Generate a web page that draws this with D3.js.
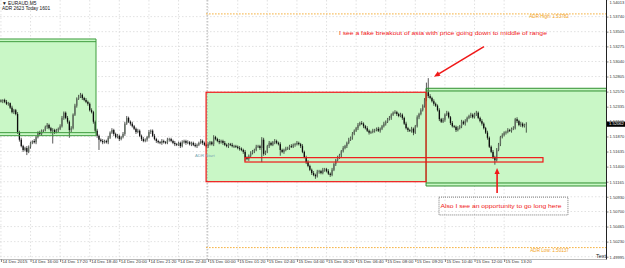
<!DOCTYPE html>
<html>
<head>
<meta charset="utf-8">
<script src="https://cdn.jsdelivr.net/npm/d3@7"></script>
<style>
  html, body { margin: 0; padding: 0; background: #fff; }
  svg { display: block; font-family: "Liberation Sans", Arial, sans-serif; }
</style>
</head>
<body>
<svg id="chart"></svg>
<script>
// Frame
const FRAME_WIDTH = 625;
const FRAME_HEIGHT = 268;
const PLOT_RIGHT = 606;
const PLOT_BOTTOM = 259;
const PIP = 0.0001;

// EURAUD M5 bars, 14 Dec 2015 14:40 onward (open of first bar, then closes)
const firstOpen = 1.5243;
const closes = [
  1.5242,1.5244,1.5241,1.5238,1.5239,1.5232,1.5225,1.5228,1.5222,1.5194,
  1.5182,1.5172,1.5166,1.5169,1.5163,1.5171,1.5177,1.5180,1.5178,1.5186,
  1.5193,1.5191,1.5196,1.5197,1.5202,1.5205,1.5200,1.5196,1.5197,1.5194,
  1.5197,1.5199,1.5203,1.5216,1.5224,1.5216,1.5210,1.5197,1.5200,1.5221,
  1.5235,1.5246,1.5249,1.5252,1.5247,1.5244,1.5241,1.5238,1.5228,1.5225,
  1.5210,1.5196,1.5188,1.5182,1.5180,1.5178,1.5180,1.5178,1.5185,1.5193,
  1.5197,1.5191,1.5186,1.5188,1.5183,1.5186,1.5191,1.5207,1.5216,1.5210,
  1.5207,1.5203,1.5199,1.5194,1.5196,1.5188,1.5183,1.5180,1.5182,1.5186,
  1.5194,1.5196,1.5188,1.5183,1.5180,1.5178,1.5177,1.5180,1.5178,1.5177,
  1.5182,1.5183,1.5180,1.5177,1.5175,1.5174,1.5177,1.5172,1.5178,1.5180,
  1.5177,1.5178,1.5175,1.5177,1.5174,1.5172,1.5174,1.5177,1.5180,1.5177,
  1.5174,1.5172,1.5175,1.5178,1.5175,1.5186,1.5183,1.5180,1.5178,1.5180,
  1.5177,1.5174,1.5172,1.5175,1.5174,1.5172,1.5172,1.5171,1.5169,1.5168,
  1.5166,1.5163,1.5154,1.5152,1.5157,1.5161,1.5164,1.5166,1.5171,1.5172,
  1.5169,1.5182,1.5160,1.5163,1.5172,1.5177,1.5174,1.5178,1.5180,1.5177,
  1.5175,1.5166,1.5163,1.5166,1.5168,1.5169,1.5172,1.5171,1.5174,1.5175,
  1.5177,1.5175,1.5172,1.5163,1.5155,1.5147,1.5141,1.5135,1.5130,1.5127,
  1.5125,1.5132,1.5133,1.5130,1.5135,1.5136,1.5133,1.5129,1.5127,1.5135,
  1.5144,1.5150,1.5154,1.5158,1.5164,1.5169,1.5172,1.5177,1.5182,1.5185,
  1.5191,1.5196,1.5200,1.5205,1.5208,1.5207,1.5203,1.5200,1.5196,1.5193,
  1.5194,1.5196,1.5197,1.5199,1.5196,1.5199,1.5203,1.5207,1.5210,1.5214,
  1.5216,1.5221,1.5224,1.5225,1.5222,1.5219,1.5221,1.5216,1.5207,1.5200,
  1.5197,1.5196,1.5199,1.5193,1.5203,1.5217,1.5222,1.5228,1.5235,1.5244,
  1.5256,1.5250,1.5247,1.5242,1.5238,1.5235,1.5228,1.5214,1.5210,1.5213,
  1.5221,1.5224,1.5217,1.5208,1.5203,1.5202,1.5197,1.5200,1.5203,1.5210,
  1.5207,1.5211,1.5216,1.5219,1.5221,1.5217,1.5222,1.5224,1.5216,1.5211,
  1.5207,1.5200,1.5193,1.5185,1.5171,1.5163,1.5155,1.5150,1.5166,1.5175,
  1.5186,1.5189,1.5193,1.5194,1.5197,1.5196,1.5199,1.5200,1.5214,1.5211,
  1.5205,1.5207,1.5203,1.5205,1.52062
];
// wick lengths in pips above / below the candle body
const upperWick = [
  2,1,2,3,2,1,3,2,2,3, 2,3,2,2,3,2,2,1,3,2, 2,3,2,1,2,3,2,2,3,2, 2,2,3,3,2,2,3,2,3,2,
  3,2,3,3,2,2,3,2,2,3, 2,2,3,2,2,3,2,2,3,2, 3,2,2,3,2,2,3,3,3,2, 2,3,2,2,3,2,2,3,2,2,
  3,2,2,3,2,2,2,3,2,2, 3,2,2,2,3,2,2,2,3,2, 2,3,2,2,2,3,2,2,3,2, 2,2,3,2,2,3,2,2,3,2,
  2,3,2,2,2,3,2,2,2,3, 2,2,3,2,2,3,2,2,3,2, 2,4,3,2,2,3,2,2,3,2, 2,3,2,2,3,2,2,3,2,2,
  3,2,2,3,2,2,3,2,2,3, 2,3,2,2,3,2,2,3,2,3, 2,2,3,2,2,3,2,2,3,2, 3,2,2,3,2,3,2,2,3,2,
  2,3,2,2,3,2,2,3,2,2, 3,2,2,3,2,2,3,2,2,3, 2,2,3,2,2,3,2,3,2,3, 15,22,3,2,3,2,2,3,2,3,
  2,3,2,2,3,2,2,3,2,3, 2,3,2,2,3,2,2,3,2,2, 3,2,2,3,2,2,3,2,3,2, 2,3,2,2,3,2,2,3,2,3,
  2,3,2,2,3
];
const lowerWick = [
  2,3,2,2,3,2,2,3,2,3, 3,2,3,2,5,2,3,2,2,3, 2,2,3,2,2,3,2,4,20,3, 2,3,2,2,3,2,3,12,3,2,
  2,3,2,2,3,2,2,3,2,2, 3,2,3,16,2,3,2,2,3,2, 2,3,2,2,3,2,2,3,2,2, 3,2,2,3,2,2,3,2,2,3,
  2,3,2,2,3,2,2,3,2,2, 2,3,2,2,3,2,2,3,2,2, 3,2,2,3,2,2,3,2,2,3, 2,2,3,2,2,3,2,2,3,2,
  3,2,2,3,2,2,3,2,2,3, 2,3,5,2,3,2,2,3,2,2, 3,22,3,2,2,3,2,2,3,2, 2,9,2,3,2,2,3,2,2,3,
  2,2,3,2,2,3,2,2,3,2, 4,2,3,2,2,3,2,2,3,2, 2,3,2,2,3,2,2,3,2,2, 3,2,2,3,2,2,3,2,2,3,
  2,2,3,2,2,3,2,2,3,2, 2,3,2,2,3,2,2,3,2,2, 3,2,3,4,2,2,3,2,2,3, 2,3,2,2,3,2,2,3,2,2,
  3,2,2,3,2,2,3,2,2,3, 2,3,2,2,3,2,2,3,2,2, 3,2,2,3,2,2,3,7,2,2, 3,2,2,3,2,2,3,2,2,3,
  2,3,2,2,12
];

// axis labels
const timeLabels = ["14 Dec 2015", "14 Dec 16:00", "14 Dec 17:20", "14 Dec 18:40", "14 Dec 20:00",
  "14 Dec 21:20", "14 Dec 22:40", "15 Dec 00:00", "15 Dec 01:20", "15 Dec 02:40", "15 Dec 04:00",
  "15 Dec 05:20", "15 Dec 06:40", "15 Dec 08:00", "15 Dec 09:20", "15 Dec 10:40", "15 Dec 12:00",
  "15 Dec 13:20"];
const BARS_PER_LABEL = 16; // 80 minutes of M5 bars
const priceLabels = ["1.54013", "1.53740", "1.53505", "1.53275", "1.53040", "1.52805", "1.52570",
  "1.52335", "1.52105", "1.51870", "1.51635", "1.51400", "1.51165", "1.50930", "1.50700",
  "1.50465", "1.50230", "1.49995"];

// drawn objects: [start bar, end bar, ...prices]
const prevBox = [-0.5, 51.4, 1.53391, 1.53349, 1.51930, 1.51883];
const asiaBox = [110.9, 229.8, 1.52560, 1.51165];
const projBox = [229.8, 327.1, 1.52622, 1.52580, 1.51145, 1.51098];
const supportBox = [131.9, 293, 1.51540, 1.51472];
const adrStartBar = 110.9;
const adrLevels = [1.53782, 1.50137];
const adrNames = ["ADR High: 1.53782", "ADR Low: 1.50137"];
const daySeparatorBar = 112;

const FRAME = d3.select("#chart")
  .attr("width", FRAME_WIDTH)
  .attr("height", FRAME_HEIGHT);

const X_SCALE = d3.scaleLinear().domain([-0.5, 327.07]).range([0, PLOT_RIGHT]);
const Y_SCALE = d3.scaleLinear().domain([1.49995, 1.54013]).range([256.7, -0.9]);

FRAME.append("defs").append("clipPath").attr("id", "plot")
  .append("rect").attr("x", 0).attr("y", 0).attr("width", PLOT_RIGHT).attr("height", PLOT_BOTTOM);

const plot = FRAME.append("g").attr("clip-path", "url(#plot)");

// grid
const tickBars = timeLabels.map((d, i) => i * BARS_PER_LABEL);
plot.append("g").selectAll("line").data(priceLabels).enter().append("line")
  .attr("x1", 0).attr("x2", PLOT_RIGHT)
  .attr("y1", d => Y_SCALE(+d)).attr("y2", d => Y_SCALE(+d))
  .attr("stroke", "#d6d6d6").attr("stroke-width", 0.7).attr("stroke-dasharray", "1.5,2");
plot.append("g").selectAll("line").data(tickBars).enter().append("line")
  .attr("x1", d => X_SCALE(d)).attr("x2", d => X_SCALE(d))
  .attr("y1", 0).attr("y2", PLOT_BOTTOM)
  .attr("stroke", "#d6d6d6").attr("stroke-width", 0.7).attr("stroke-dasharray", "1.5,2");

// zone fills
const GREEN_FILL = "#c9f7c6";
function fillBox(x0, x1, p0, p1) {
  plot.append("rect")
    .attr("x", X_SCALE(x0)).attr("width", X_SCALE(x1) - X_SCALE(x0))
    .attr("y", Y_SCALE(p0)).attr("height", Y_SCALE(p1) - Y_SCALE(p0))
    .attr("fill", GREEN_FILL);
}
fillBox(prevBox[0], prevBox[1], prevBox[2], prevBox[5]);
fillBox(asiaBox[0], asiaBox[1], asiaBox[2], asiaBox[3]);
fillBox(projBox[0], projBox[1], projBox[2], projBox[5]);

// day separator
plot.append("line")
  .attr("x1", X_SCALE(daySeparatorBar) - 1).attr("x2", X_SCALE(daySeparatorBar) - 1)
  .attr("y1", 0).attr("y2", PLOT_BOTTOM)
  .attr("stroke", "#9a9a9a").attr("stroke-width", 0.8).attr("stroke-dasharray", "1.5,1.5");

// ADR lines
plot.append("g").selectAll("line").data(adrLevels).enter().append("line")
  .attr("x1", X_SCALE(adrStartBar)).attr("x2", PLOT_RIGHT)
  .attr("y1", d => Y_SCALE(d)).attr("y2", d => Y_SCALE(d))
  .attr("stroke", "#f3a21b").attr("stroke-width", 0.9).attr("stroke-dasharray", "1.5,1.5");

// candles
const candles = closes.map((c, i) => {
  const o = i === 0 ? firstOpen : closes[i - 1];
  return {i: i, o: o, c: c,
    h: Math.max(o, c) + upperWick[i] * PIP,
    l: Math.min(o, c) - lowerWick[i] * PIP};
});
plot.append("g").selectAll("line").data(candles).enter().append("line")
  .attr("x1", d => X_SCALE(d.i)).attr("x2", d => X_SCALE(d.i))
  .attr("y1", d => Y_SCALE(d.h)).attr("y2", d => Y_SCALE(d.l))
  .attr("stroke", "#111").attr("stroke-width", 0.7);
plot.append("g").selectAll("rect").data(candles).enter().append("rect")
  .attr("x", d => X_SCALE(d.i) - 0.65).attr("width", 1.3)
  .attr("y", d => Y_SCALE(Math.max(d.o, d.c)))
  .attr("height", d => Math.max(0.8, Y_SCALE(Math.min(d.o, d.c)) - Y_SCALE(Math.max(d.o, d.c))))
  .attr("fill", d => d.c >= d.o ? "#5f6b5f" : "#0c0c0c");

// zone borders
const GREEN_LINE = "#3f9d3f";
function hline(x0, x1, p, color, w) {
  plot.append("line").attr("x1", X_SCALE(x0)).attr("x2", X_SCALE(x1))
    .attr("y1", Y_SCALE(p)).attr("y2", Y_SCALE(p))
    .attr("stroke", color).attr("stroke-width", w);
}
function vline(x, p0, p1, color, w) {
  plot.append("line").attr("x1", X_SCALE(x)).attr("x2", X_SCALE(x))
    .attr("y1", Y_SCALE(p0)).attr("y2", Y_SCALE(p1))
    .attr("stroke", color).attr("stroke-width", w);
}
prevBox.slice(2).forEach(p => hline(prevBox[0], prevBox[1], p, GREEN_LINE, 1));
vline(prevBox[1], prevBox[2], prevBox[5], GREEN_LINE, 1);
projBox.slice(2).forEach(p => hline(projBox[0], projBox[1], p, "#2f8f2f", 1));
vline(projBox[0], projBox[2], projBox[5], "#2f8f2f", 1);

const RED = "#f01818";
plot.append("rect")
  .attr("x", X_SCALE(asiaBox[0])).attr("width", X_SCALE(asiaBox[1]) - X_SCALE(asiaBox[0]))
  .attr("y", Y_SCALE(asiaBox[2])).attr("height", Y_SCALE(asiaBox[3]) - Y_SCALE(asiaBox[2]))
  .attr("fill", "none").attr("stroke", RED).attr("stroke-width", 1.2);
plot.append("rect")
  .attr("x", X_SCALE(supportBox[0])).attr("width", X_SCALE(supportBox[1]) - X_SCALE(supportBox[0]))
  .attr("y", Y_SCALE(supportBox[2])).attr("height", Y_SCALE(supportBox[3]) - Y_SCALE(supportBox[2]))
  .attr("fill", "none").attr("stroke", RED).attr("stroke-width", 1.2);

// ADR texts
plot.append("g").selectAll("text").data(adrLevels).enter().append("text")
  .attr("x", X_SCALE(307)).attr("y", d => Y_SCALE(d) + 3.3)
  .attr("text-anchor", "end").attr("dominant-baseline", "middle")
  .attr("font-size", 4.6).attr("fill", "#f3a21b")
  .text((d, i) => adrNames[i]);
plot.append("text")
  .attr("x", X_SCALE(104.9)).attr("y", Y_SCALE(1.51566))
  .attr("dominant-baseline", "middle").attr("font-size", 4.4).attr("fill", "#7ea9b3")
  .text("ADR Start");

// annotations
function arrow(b0, p0, b1, p1) {
  const x0 = X_SCALE(b0), y0 = Y_SCALE(p0), x1 = X_SCALE(b1), y1 = Y_SCALE(p1);
  const a = Math.atan2(y1 - y0, x1 - x0);
  const L = 6, W = 2.6;
  const bx = x1 - L * Math.cos(a), by = y1 - L * Math.sin(a);
  FRAME.append("line").attr("x1", x0).attr("y1", y0).attr("x2", bx).attr("y2", by)
    .attr("stroke", RED).attr("stroke-width", 1.6);
  FRAME.append("path")
    .attr("d", `M${x1},${y1}L${bx + W * Math.sin(a)},${by - W * Math.cos(a)}L${bx - W * Math.sin(a)},${by + W * Math.cos(a)}Z`)
    .attr("fill", RED);
}
arrow(261.1, 1.53271, 234.1, 1.52803);
arrow(268.2, 1.50989, 268.2, 1.51379);

FRAME.append("text")
  .attr("x", X_SCALE(182.7)).attr("y", Y_SCALE(1.53485))
  .attr("dominant-baseline", "middle").attr("font-size", 6).attr("fill", RED)
  .attr("textLength", 208).attr("lengthAdjust", "spacingAndGlyphs")
  .text("I see a fake breakout of asia with price going down to middle of range");

FRAME.append("rect")
  .attr("x", X_SCALE(236.8)).attr("width", X_SCALE(306.5) - X_SCALE(236.8))
  .attr("y", Y_SCALE(1.50924)).attr("height", Y_SCALE(1.50646) - Y_SCALE(1.50924))
  .attr("fill", "none").attr("stroke", "#444").attr("stroke-width", 0.7).attr("stroke-dasharray", "1,1");
FRAME.append("text")
  .attr("x", X_SCALE(236.8) + 1.5).attr("y", Y_SCALE(1.50786))
  .attr("dominant-baseline", "middle").attr("font-size", 6).attr("fill", RED)
  .attr("textLength", 121).attr("lengthAdjust", "spacingAndGlyphs")
  .text("Also I see an opportunity to go long here");

// axes
FRAME.append("line").attr("x1", PLOT_RIGHT + 0.5).attr("x2", PLOT_RIGHT + 0.5)
  .attr("y1", 0).attr("y2", PLOT_BOTTOM + 0.5).attr("stroke", "#222").attr("stroke-width", 1);
FRAME.append("line").attr("x1", 0).attr("x2", PLOT_RIGHT + 0.5)
  .attr("y1", PLOT_BOTTOM + 0.5).attr("y2", PLOT_BOTTOM + 0.5).attr("stroke", "#888").attr("stroke-width", 0.6);

const yAxis = FRAME.append("g")
  .attr("transform", "translate(" + (PLOT_RIGHT + 0.5) + ",0)")
  .call(d3.axisRight(Y_SCALE).tickValues(priceLabels.map(Number))
    .tickFormat((d, i) => priceLabels[i]).tickSize(2).tickPadding(1));
yAxis.select(".domain").remove();
yAxis.selectAll("text").attr("font-size", 4.1).attr("fill", "#333").attr("font-family", "Liberation Sans, Arial");
yAxis.selectAll("line").attr("stroke", "#333").attr("stroke-width", 0.6);
// keep the top price label inside the window
yAxis.selectAll(".tick").filter(d => Y_SCALE(d) < 2.2)
  .select("text").attr("y", d => 2.2 - Y_SCALE(d));

const xAxis = FRAME.append("g")
  .attr("transform", "translate(0," + (PLOT_BOTTOM + 0.5) + ")")
  .call(d3.axisBottom(X_SCALE).tickValues(tickBars)
    .tickFormat((d, i) => timeLabels[i]).tickSize(2.5));
xAxis.select(".domain").remove();
xAxis.selectAll("text").attr("font-size", 4.4).attr("fill", "#333")
  .attr("text-anchor", "start").attr("x", 1).attr("y", 0.6).attr("dy", "0.71em")
  .attr("font-family", "Liberation Sans, Arial");
xAxis.selectAll("line").attr("stroke", "#333").attr("stroke-width", 0.6);

// current price marker
const lastClose = closes[closes.length - 1];
FRAME.append("rect").attr("x", PLOT_RIGHT + 1).attr("y", Y_SCALE(lastClose) - 2.6)
  .attr("width", 18).attr("height", 5.2).attr("fill", "#000");
FRAME.append("text").attr("x", PLOT_RIGHT + 3).attr("y", Y_SCALE(lastClose))
  .attr("dominant-baseline", "middle").attr("font-size", 4.1).attr("fill", "#fff")
  .text(d3.format(".5f")(lastClose));

// header texts
FRAME.append("text").attr("x", 2).attr("y", 3.5).attr("dominant-baseline", "middle")
  .attr("font-size", 4.8).attr("fill", "#111").text("\u25BC EURAUD,M5");
FRAME.append("text").attr("x", 2).attr("y", 9).attr("dominant-baseline", "middle")
  .attr("font-size", 4.8).attr("fill", "#111").text("ADR 2623  Today 1601");
FRAME.append("text").attr("x", 596).attr("y", 256.5).attr("dominant-baseline", "middle")
  .attr("font-size", 5.5).attr("fill", "#222").text("Text");
</script>
</body>
</html>
